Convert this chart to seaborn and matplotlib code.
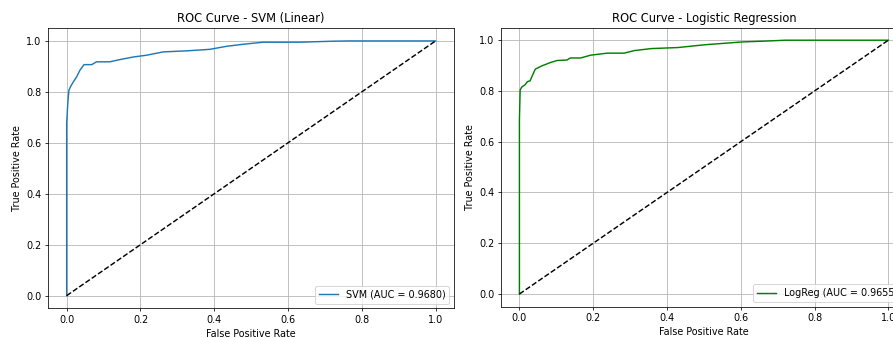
import matplotlib
matplotlib.use("Agg")
import matplotlib.pyplot as plt
import seaborn as sns

# ROC points
svm_fpr = [0.0, 0.0, 0.003, 0.006, 0.011, 0.018, 0.027, 0.036, 0.047, 0.068, 0.081,
           0.117, 0.145, 0.181, 0.217, 0.262, 0.325, 0.388, 0.434, 0.479, 0.533,
           0.632, 0.723, 0.768, 1.0]
svm_tpr = [0.0, 0.676, 0.754, 0.806, 0.822, 0.839, 0.859, 0.885, 0.907, 0.907, 0.918,
           0.918, 0.927, 0.937, 0.944, 0.957, 0.961, 0.967, 0.979, 0.987, 0.995,
           0.995, 0.999, 1.0, 1.0]

lr_fpr = [0.0, 0.0, 0.002, 0.006, 0.015, 0.022, 0.029, 0.034, 0.043, 0.061, 0.084,
          0.102, 0.129, 0.138, 0.166, 0.193, 0.238, 0.284, 0.311, 0.357, 0.429,
          0.502, 0.539, 0.602, 0.675, 0.721, 1.0]
lr_tpr = [0.0, 0.686, 0.804, 0.815, 0.824, 0.837, 0.840, 0.857, 0.886, 0.899, 0.912,
          0.920, 0.922, 0.930, 0.930, 0.941, 0.949, 0.949, 0.959, 0.967, 0.971,
          0.982, 0.986, 0.993, 0.997, 1.0, 1.0]

chance = [0, 1]

titles = ["ROC Curve - SVM (Linear)", "ROC Curve - Logistic Regression"]
labels = ["SVM (AUC = 0.9680)", "LogReg (AUC = 0.9655)"]
colors = ["#1f77b4", "green"]

fig = plt.figure(figsize=(893 / 69, 338 / 69), dpi=69)
ax1 = fig.add_axes([0.054, 0.0876, 0.4544, 0.829])
ax2 = fig.add_axes([0.561, 0.0926, 0.4544, 0.826])

curves = [(svm_fpr, svm_tpr), (lr_fpr, lr_tpr)]
for ax, (fpr, tpr), title, label, color in zip([ax1, ax2], curves, titles, labels, colors):
    sns.lineplot(x=fpr, y=tpr, ax=ax, color=color, label=label,
                 estimator=None, sort=False, linewidth=1.5)
    sns.lineplot(x=chance, y=chance, ax=ax, color="black", linestyle="--",
                 estimator=None, sort=False, linewidth=1.5)
    ax.set_xlim(-0.05, 1.05)
    ax.set_ylim(-0.05, 1.05)
    ax.set_title(title)
    ax.set_xlabel("False Positive Rate")
    ax.set_ylabel("True Positive Rate")
    ax.grid(True)
    ax.legend(loc="lower right")

fig.savefig("out.png", dpi=69)
